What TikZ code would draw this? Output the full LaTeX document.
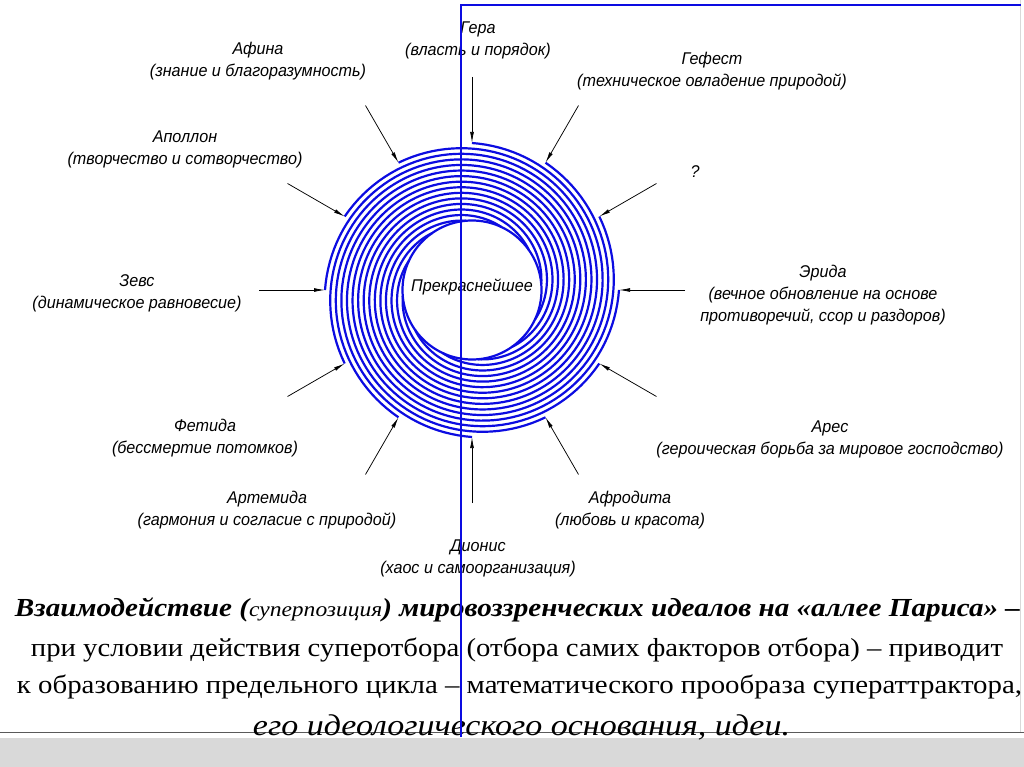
\documentclass[tikz,border=0pt]{standalone}
\usepackage{fontspec}
\usepackage{graphicx}
\setmainfont{Liberation Serif}
\newfontfamily\lblfont[FakeStretch=0.95]{Liberation Sans}
\usetikzlibrary{arrows.meta}
\definecolor{coilblue}{RGB}{12,12,225}
\definecolor{framegray}{RGB}{90,90,90}
\definecolor{bandgray}{RGB}{217,217,217}
\begin{document}
\begin{tikzpicture}[x=1pt,y=-1pt,
  lbl/.style={font=\lblfont\itshape\fontsize{17}{22}\selectfont, align=center, inner sep=0pt},
  feed/.style={-{Latex[length=11pt,width=3.8pt]}, line width=0.75pt, black},
  coil/.style={draw=coilblue, line width=2.2pt, line join=round},
  frameline/.style={draw=coilblue, line width=2pt},
  body/.style={anchor=base, inner sep=0pt}]
\useasboundingbox[fill=white] (0,0) rectangle (1024,767);
% bottom band
\fill[bandgray] (0,738) rectangle (1024,767);
\draw[framegray, line width=1.4pt] (0,732.5) -- (1024,732.5);
\draw[black!15, line width=0.8pt] (1020,0) -- (1020,732);
% spiral coils and feeding arrows
\coordinate (c) at (472,290);
\draw[coil] (c) circle[radius=69.5];
\foreach \k in {0,...,11}{
  \pgfmathsetmacro{\az}{90-30*\k}
  \coordinate (s\k) at ({472+147*cos(\az)},{290-147*sin(\az)});
  \coordinate (o\k) at ({472+213*cos(\az)},{290-213*sin(\az)});
  \draw[coil] plot[domain=0:415, samples=150, variable=\t]
    ({472+(147-0.18667*\t)*cos(\az-\t)},{290-(147-0.18667*\t)*sin(\az-\t)});
  \draw[feed] (o\k) -- (s\k);
}
% labels
\node[lbl] (center) at (472,287) {Прекраснейшее};
\node[lbl] (hera) at (478,40) {Гера\\(власть и порядок)};
\node[lbl] (hephaestus) at (712,71) {Гефест\\(техническое овладение природой)};
\node[lbl] (unknown) at (695,172) {?};
\node[lbl] (eris) at (823,295) {Эрида\\(вечное обновление на основе\\противоречий, ссор и раздоров)};
\node[lbl] (ares) at (830,439) {Арес\\(героическая борьба за мировое господство)};
\node[lbl] (aphrodite) at (630,510) {Афродита\\(любовь и красота)};
\node[lbl] (dionysus) at (478,558) {Дионис\\(хаос и самоорганизация)};
\node[lbl] (artemis) at (267,510) {Артемида\\(гармония и согласие с природой)};
\node[lbl] (thetis) at (205,438) {Фетида\\(бессмертие потомков)};
\node[lbl] (zeus) at (137,293) {Зевс\\(динамическое равновесие)};
\node[lbl] (apollo) at (185,149) {Аполлон\\(творчество и сотворчество)};
\node[lbl] (athena) at (258,61) {Афина\\(знание и благоразумность)};
% bottom text
\node[body] (line1) at (517.5,616) {\resizebox{1005pt}{\height}{\fontsize{26}{30}\selectfont\bfseries\itshape Взаимодействие ({\mdseries\fontsize{21}{24}\selectfont суперпозиция}) мировоззренческих идеалов на «аллее Париса» –}};
\node[body] (line2) at (517,656) {\resizebox{972pt}{\height}{\fontsize{26}{30}\selectfont при условии действия суперотбора (отбора самих факторов отбора) – приводит}};
\node[body] (line3) at (519.5,693) {\resizebox{1005pt}{\height}{\fontsize{26}{30}\selectfont к образованию предельного цикла – математического прообраза суператтрактора,}};
\node[body] (line4) at (521.5,735) {\resizebox{537pt}{\height}{\fontsize{30}{34}\selectfont\itshape его идеологического основания, идеи.}};
% blue frame
\draw[frameline] (461,737) -- (461,5.5) -- (1021,5.5);
\end{tikzpicture}
\end{document}
